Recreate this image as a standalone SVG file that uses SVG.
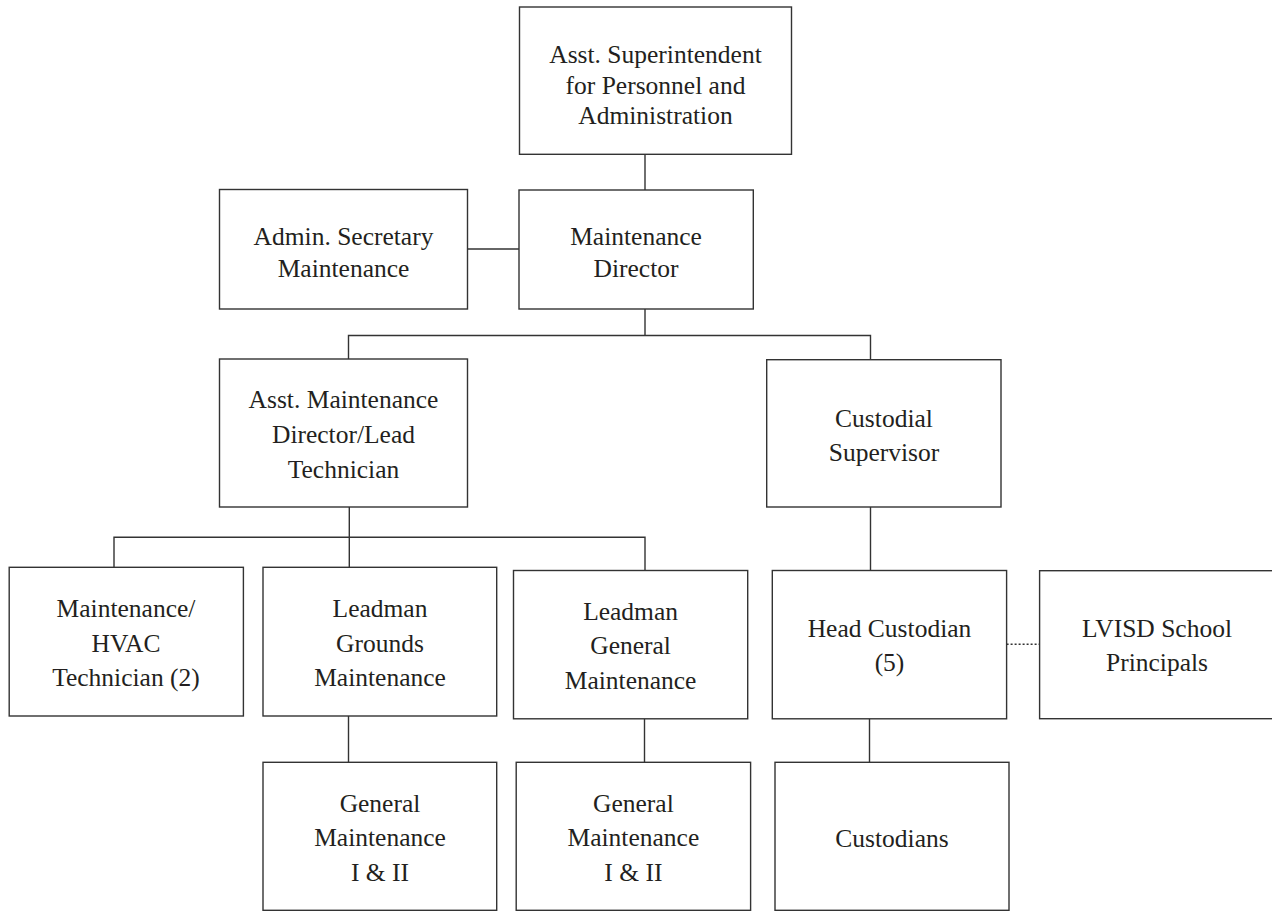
<svg xmlns="http://www.w3.org/2000/svg" width="1272" height="911" viewBox="0 0 1272 911">
  <style>
    .box { fill: #ffffff; stroke: #333333; stroke-width: 1.4; }
    .lbl { font-family: "Liberation Serif", "Times New Roman", serif; font-size: 25.5px; fill: #231f20; text-anchor: middle; }
    .wire { fill: none; stroke: #333333; stroke-width: 1.4; }
    .dotted { fill: none; stroke: #333333; stroke-width: 1.4; stroke-dasharray: 2 2; }
  </style>
  <rect x="0" y="0" width="1272" height="911" fill="#ffffff"/>

  <!-- reporting lines -->
  <g id="connectors">
    <path class="wire" d="M645 154 V190"/>
    <path class="wire" d="M467.5 249 H519"/>
    <path class="wire" d="M645 309 V335.5 M348.5 359 V335.5 H870.5 V359.7"/>
    <path class="wire" d="M349.3 507 V567.3 M114 567.3 V537.3 H645 V570.5"/>
    <path class="wire" d="M870.5 507 V570.5"/>
    <path class="wire" d="M348.5 716 V762.3"/>
    <path class="wire" d="M644.5 718.8 V762.3"/>
    <path class="wire" d="M869.5 718.8 V762.3"/>
    <path class="dotted" d="M1006.6 644.3 H1039.6"/>
  </g>

  <g id="asst-superintendent">
    <rect class="box" x="519.5" y="7" width="272" height="147.3"/>
    <text class="lbl" x="655.5" y="63">Asst. Superintendent</text>
    <text class="lbl" x="655.5" y="93.5">for Personnel and</text>
    <text class="lbl" x="655.5" y="124">Administration</text>
  </g>

  <g id="admin-secretary">
    <rect class="box" x="219.5" y="189.5" width="248" height="119.5"/>
    <text class="lbl" x="343.5" y="245">Admin. Secretary</text>
    <text class="lbl" x="343.5" y="277">Maintenance</text>
  </g>

  <g id="maintenance-director">
    <rect class="box" x="519" y="190" width="234.3" height="119"/>
    <text class="lbl" x="636" y="245">Maintenance</text>
    <text class="lbl" x="636" y="277">Director</text>
  </g>

  <g id="asst-maintenance-director">
    <rect class="box" x="219.5" y="359" width="248" height="148"/>
    <text class="lbl" x="343.5" y="408">Asst. Maintenance</text>
    <text class="lbl" x="343.5" y="443">Director/Lead</text>
    <text class="lbl" x="343.5" y="478">Technician</text>
  </g>

  <g id="custodial-supervisor">
    <rect class="box" x="766.7" y="359.7" width="234.3" height="147.3"/>
    <text class="lbl" x="884" y="427">Custodial</text>
    <text class="lbl" x="884" y="461">Supervisor</text>
  </g>

  <g id="hvac-technician">
    <rect class="box" x="9.2" y="567.3" width="234.2" height="148.7"/>
    <text class="lbl" x="126" y="617">Maintenance/</text>
    <text class="lbl" x="126" y="652">HVAC</text>
    <text class="lbl" x="126" y="686">Technician (2)</text>
  </g>

  <g id="leadman-grounds">
    <rect class="box" x="263" y="567.3" width="233.7" height="148.7"/>
    <text class="lbl" x="380" y="617">Leadman</text>
    <text class="lbl" x="380" y="652">Grounds</text>
    <text class="lbl" x="380" y="686">Maintenance</text>
  </g>

  <g id="leadman-general">
    <rect class="box" x="513.5" y="570.5" width="234.2" height="148.3"/>
    <text class="lbl" x="630.6" y="620">Leadman</text>
    <text class="lbl" x="630.6" y="654">General</text>
    <text class="lbl" x="630.6" y="688.5">Maintenance</text>
  </g>

  <g id="head-custodian">
    <rect class="box" x="772.3" y="570.5" width="234.3" height="148.3"/>
    <text class="lbl" x="889.5" y="637">Head Custodian</text>
    <text class="lbl" x="889.5" y="671">(5)</text>
  </g>

  <g id="school-principals">
    <rect class="box" x="1039.6" y="570.7" width="240" height="148"/>
    <text class="lbl" x="1157" y="637">LVISD School</text>
    <text class="lbl" x="1157" y="671">Principals</text>
  </g>

  <g id="general-maintenance-grounds">
    <rect class="box" x="263" y="762.3" width="233.7" height="148"/>
    <text class="lbl" x="380" y="812">General</text>
    <text class="lbl" x="380" y="846">Maintenance</text>
    <text class="lbl" x="380" y="880.5">I &amp; II</text>
  </g>

  <g id="general-maintenance-general">
    <rect class="box" x="516.2" y="762.3" width="234.4" height="148"/>
    <text class="lbl" x="633.4" y="812">General</text>
    <text class="lbl" x="633.4" y="846">Maintenance</text>
    <text class="lbl" x="633.4" y="880.5">I &amp; II</text>
  </g>

  <g id="custodians">
    <rect class="box" x="775" y="762.3" width="234" height="148"/>
    <text class="lbl" x="892" y="847">Custodians</text>
  </g>
</svg>
